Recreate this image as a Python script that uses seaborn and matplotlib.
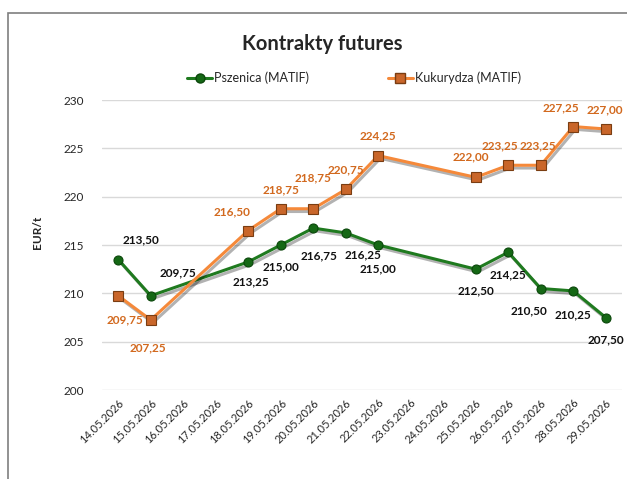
import pandas as pd
import matplotlib.pyplot as plt
import matplotlib.patheffects as pe
from matplotlib.lines import Line2D
from matplotlib.patches import Rectangle
import seaborn as sns

# data
dates = ["14.05.2026", "15.05.2026", "18.05.2026", "19.05.2026", "20.05.2026", "21.05.2026",
         "22.05.2026", "25.05.2026", "26.05.2026", "27.05.2026", "28.05.2026", "29.05.2026"]
wheat = [213.50, 209.75, 213.25, 215.00, 216.75, 216.25, 215.00, 212.50, 214.25, 210.50, 210.25, 207.50]
corn = [209.75, 207.25, 216.50, 218.75, 218.75, 220.75, 224.25, 222.00, 223.25, 223.25, 227.25, 227.00]
wheat_name = "Pszenica (MATIF)"
corn_name = "Kukurydza (MATIF)"

# label offsets in pixels (dx, dy up)
wheat_off = [(23, 20), (27, 23), (3, -20), (0, -22), (6, -28), (17, -22),
             (0, -24), (0, -22), (0, -23), (-12, -22), (0, -24), (0, -22)]
corn_off = [(7, -24), (-3, -28), (-16, 19), (0, 19), (0, 31), (0, 20),
            (0, 20), (-5, 20), (-8, 19), (-3, 19), (-12, 19), (-1, 19)]

green = "#1f7a1f"
orange = "#f5893a"
orange_txt = "#d2691e"

sns.set_style("white")
plt.rcParams["font.family"] = ["Lato", "DejaVu Sans"]

df = pd.DataFrame({"date": pd.to_datetime(dates, format="%d.%m.%Y"), "wheat": wheat, "corn": corn})

fig = plt.figure(figsize=(6.27, 4.79), dpi=100)
ax = fig.add_axes([102 / 627, 1 - 390 / 479, 520 / 627, 290 / 479])

shadow = [pe.SimpleLineShadow(offset=(1.5, -2), shadow_color="black", alpha=0.3), pe.Normal()]

# lines with a soft shadow, then markers on top
sns.lineplot(data=df, x="date", y="wheat", ax=ax, color=green, linewidth=2.2, path_effects=shadow)
sns.lineplot(data=df, x="date", y="corn", ax=ax, color=orange, linewidth=2.2, path_effects=shadow)
sns.lineplot(data=df, x="date", y="wheat", ax=ax, linestyle="", marker="o", markersize=6.5,
             markerfacecolor="#156815", markeredgecolor="#0b470b", markeredgewidth=0.8)
sns.lineplot(data=df, x="date", y="corn", ax=ax, linestyle="", marker="s", markersize=6.5,
             markerfacecolor="#c9662a", markeredgecolor="#7a3d12", markeredgewidth=0.8)

for d, v, (dx, dy) in zip(df["date"], wheat, wheat_off):
    ax.annotate(f"{v:.2f}".replace(".", ","), (d, v), xytext=(dx, dy), textcoords="offset pixels",
                ha="center", va="center", fontsize=8.5, fontweight="bold", color="#111111")
for d, v, (dx, dy) in zip(df["date"], corn, corn_off):
    ax.annotate(f"{v:.2f}".replace(".", ","), (d, v), xytext=(dx, dy), textcoords="offset pixels",
                ha="center", va="center", fontsize=8.5, fontweight="bold", color=orange_txt)

all_days = pd.date_range("2026-05-14", "2026-05-29", freq="D")
ax.set_xticks(all_days)
ax.set_xticklabels([d.strftime("%d.%m.%Y") for d in all_days], rotation=45,
                   ha="right", va="top", rotation_mode="anchor", fontsize=8)
ax.set_xlim(all_days[0] - pd.Timedelta(hours=12), all_days[-1] + pd.Timedelta(hours=12))
ax.set_ylim(200, 230)
ax.set_yticks(range(200, 231, 5))
ax.tick_params(axis="y", labelsize=8.5, pad=13, length=0)
ax.tick_params(axis="x", pad=5, length=0)
ax.grid(axis="y", color="#d9d9d9", linewidth=1)
ax.set_axisbelow(True)
sns.despine(ax=ax, left=True, bottom=True)
ax.set_xlabel("")
ax.set_ylabel("")

fig.text(37 / 627, 1 - 232 / 479, "EUR/t", rotation=90, ha="center", va="center",
         fontsize=8.5, fontweight="bold")
fig.text(322 / 627, 1 - 44 / 479, "Kontrakty futures", ha="center", va="center",
         fontsize=14.5, fontweight="bold")

handles = [
    Line2D([], [], color=green, linewidth=2.2, marker="o", markersize=6.5,
           markerfacecolor="#156815", markeredgecolor="#0b470b"),
    Line2D([], [], color=orange, linewidth=2.2, marker="s", markersize=6.5,
           markerfacecolor="#c9662a", markeredgecolor="#7a3d12"),
]
ax.legend(handles, [wheat_name, corn_name], loc="center",
          bbox_to_anchor=(354 / 627, 1 - 78 / 479), bbox_transform=fig.transFigure,
          ncol=2, frameon=False, fontsize=9, handlelength=2.0, handletextpad=0.15, columnspacing=6.3)

# outer chart frame (cropped on the right and bottom)
fig.add_artist(Rectangle((8 / 627, -0.1), 1.0, 1 - 13 / 479 + 0.1, transform=fig.transFigure,
                         fill=False, edgecolor="#7f7f7f", linewidth=1.2))

plt.savefig("out.png", dpi=100)
